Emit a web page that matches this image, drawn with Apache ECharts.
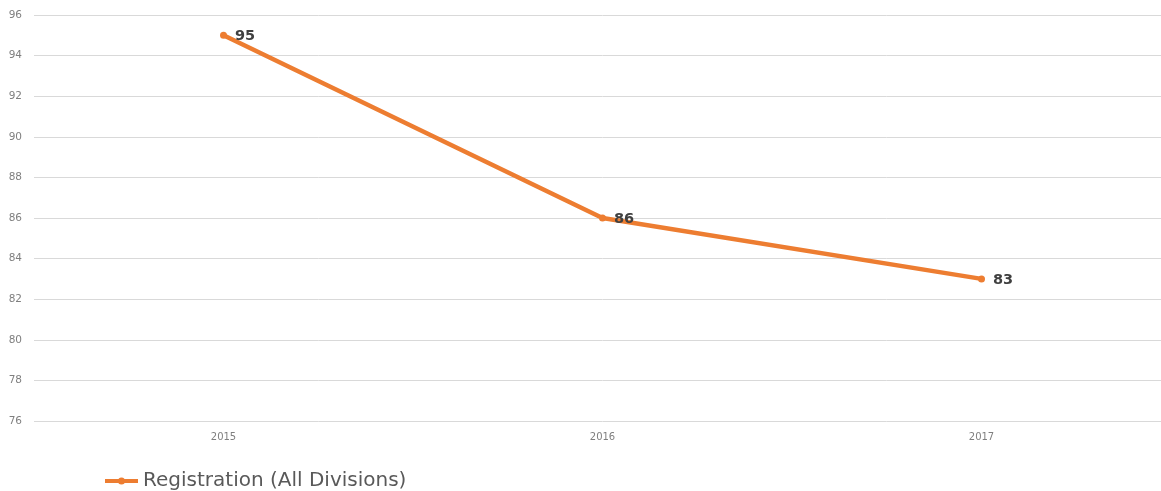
<!DOCTYPE html>
<html><head><meta charset="utf-8">
<script src="https://cdn.jsdelivr.net/npm/echarts@6/dist/echarts.min.js"></script>
<style>html,body{margin:0;padding:0;background:#fff;overflow:hidden;width:1161px;height:491px}#c{width:1171px;height:491px}</style>
</head><body><div id="c"></div>
<script>
const categories = ['2015', '2016', '2017'];
const registration = [95, 86, 83];
const seriesName = 'Registration (All Divisions)';
const yMin = 76, yMax = 96, yStep = 2;

const chart = echarts.init(document.getElementById('c'), null, {renderer: 'canvas'});
chart.setOption({
  animation: false,
  textStyle: {fontFamily: 'DejaVu Sans'},
  grid: {left: 34, right: 0, top: 15, bottom: 70, containLabel: false},
  legend: {
    data: [seriesName], left: 100, top: 466, itemWidth: 33, itemHeight: 7, itemGap: 4,
    textStyle: {fontSize: 20, color: '#595959', fontFamily: 'DejaVu Sans'},
    icon: 'path://M0,1.5 L33,1.5 L33,5.5 L0,5.5 Z M13,3.5 a3.5,3.5 0 1,1 7,0 a3.5,3.5 0 1,1 -7,0 Z'
  },
  xAxis: {
    type: 'category', data: categories, boundaryGap: true,
    axisLine: {show: false}, axisTick: {show: false},
    axisLabel: {color: '#7f7f7f', fontSize: 10, margin: 11, fontFamily: 'DejaVu Sans'}
  },
  yAxis: {
    type: 'value', min: yMin, max: yMax, interval: yStep,
    axisLine: {show: false}, axisTick: {show: false},
    axisLabel: {color: '#7f7f7f', fontSize: 10.5, margin: 12, fontFamily: 'DejaVu Sans'},
    splitLine: {lineStyle: {color: '#d9d9d9', width: 1}}
  },
  series: [{
    name: seriesName, type: 'line', data: registration,
    symbol: 'circle', symbolSize: 7,
    lineStyle: {color: '#ED7D31', width: 4.5},
    itemStyle: {color: '#ED7D31'},
    label: {show: true, position: 'right', distance: 8, offset: [0, 1], color: '#404040', fontSize: 14.5, fontWeight: 'bold', fontFamily: 'DejaVu Sans'}
  }]
});
</script></body></html>
